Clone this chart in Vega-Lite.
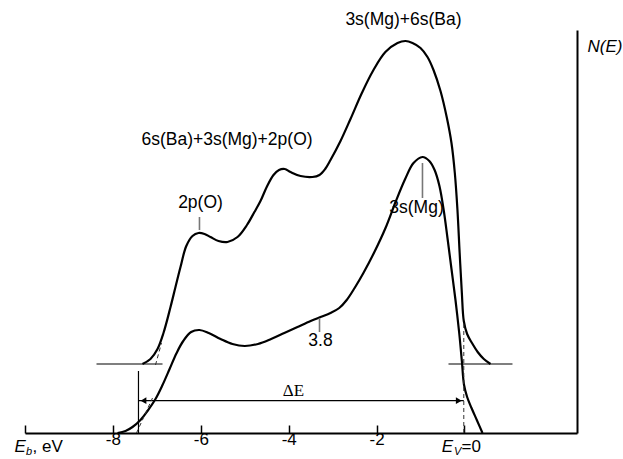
{
  "$schema": "https://vega.github.io/schema/vega-lite/v6.json",
  "width": 552,
  "height": 403,
  "autosize": {"type": "none"},
  "padding": {"left": 25, "top": 30, "right": 46, "bottom": 26},
  "background": "white",
  "config": {"view": {"stroke": null}, "font": "Liberation Sans"},
  "datasets": {
    "upper": [
      {"x": -7.327, "y": 69}, {"x": -7.145, "y": 74}, {"x": -6.985, "y": 84}, {"x": -6.849, "y": 100},
      {"x": -6.689, "y": 126}, {"x": -6.576, "y": 146}, {"x": -6.462, "y": 166}, {"x": -6.33, "y": 187},
      {"x": -6.189, "y": 197}, {"x": -6.052, "y": 200}, {"x": -5.915, "y": 199}, {"x": -5.779, "y": 196},
      {"x": -5.597, "y": 192}, {"x": -5.392, "y": 191}, {"x": -5.165, "y": 196}, {"x": -4.95, "y": 208},
      {"x": -4.78, "y": 221}, {"x": -4.642, "y": 232}, {"x": -4.50, "y": 246}, {"x": -4.346, "y": 258},
      {"x": -4.22, "y": 263}, {"x": -4.09, "y": 264}, {"x": -3.959, "y": 261},
      {"x": -3.73, "y": 257}, {"x": -3.46, "y": 256}, {"x": -3.30, "y": 258}, {"x": -3.17, "y": 264},
      {"x": -3.049, "y": 273}, {"x": -2.821, "y": 292}, {"x": -2.594, "y": 314}, {"x": -2.335, "y": 340},
      {"x": -2.071, "y": 363}, {"x": -1.80, "y": 381}, {"x": -1.524, "y": 390}, {"x": -1.342, "y": 392},
      {"x": -1.183, "y": 390}, {"x": -1.001, "y": 385}, {"x": -0.842, "y": 376}, {"x": -0.705, "y": 363},
      {"x": -0.546, "y": 342}, {"x": -0.40, "y": 315}, {"x": -0.296, "y": 290}, {"x": -0.22, "y": 260},
      {"x": -0.16, "y": 223}, {"x": -0.11, "y": 180}, {"x": -0.06, "y": 140}, {"x": -0.016, "y": 112},
      {"x": 0.06, "y": 99}, {"x": 0.17, "y": 90}, {"x": 0.30, "y": 81}, {"x": 0.44, "y": 74}, {"x": 0.592, "y": 69}
    ],
    "lower": [
      {"x": -7.895, "y": 0}, {"x": -7.713, "y": 2}, {"x": -7.554, "y": 6}, {"x": -7.372, "y": 13},
      {"x": -7.213, "y": 22}, {"x": -7.031, "y": 34}, {"x": -6.871, "y": 48}, {"x": -6.71, "y": 64},
      {"x": -6.55, "y": 80}, {"x": -6.40, "y": 92}, {"x": -6.22, "y": 101}, {"x": -6.03, "y": 103},
      {"x": -5.82, "y": 100}, {"x": -5.55, "y": 94}, {"x": -5.28, "y": 89}, {"x": -5.00, "y": 87},
      {"x": -4.70, "y": 89}, {"x": -4.40, "y": 94}, {"x": -4.10, "y": 100}, {"x": -3.80, "y": 106},
      {"x": -3.50, "y": 112}, {"x": -3.276, "y": 116}, {"x": -3.049, "y": 120}, {"x": -2.85, "y": 125},
      {"x": -2.68, "y": 133}, {"x": -2.50, "y": 145}, {"x": -2.30, "y": 160}, {"x": -2.05, "y": 181},
      {"x": -1.797, "y": 205}, {"x": -1.56, "y": 232}, {"x": -1.35, "y": 254}, {"x": -1.16, "y": 270},
      {"x": -0.956, "y": 276}, {"x": -0.80, "y": 272}, {"x": -0.68, "y": 263}, {"x": -0.57, "y": 247},
      {"x": -0.47, "y": 222}, {"x": -0.387, "y": 195}, {"x": -0.296, "y": 164}, {"x": -0.205, "y": 133},
      {"x": -0.12, "y": 100}, {"x": -0.06, "y": 72}, {"x": -0.01, "y": 48}, {"x": 0.06, "y": 36},
      {"x": 0.16, "y": 25}, {"x": 0.28, "y": 13}, {"x": 0.410, "y": 0}
    ],
    "thin": [
      {"x": -8.373, "x2": -6.871, "y": 69, "y2": 69},
      {"x": -0.364, "x2": 1.092, "y": 69, "y2": 69},
      {"x": -7.418, "x2": -7.418, "y": 0, "y2": 62},
      {"x": -7.418, "x2": -0.016, "y": 32.3, "y2": 32.3}
    ],
    "dashed": [
      {"x": -7.463, "x2": -7.099, "y": 0, "y2": 35},
      {"x": -7.031, "x2": -6.894, "y": 68, "y2": 90},
      {"x": -0.016, "x2": -0.016, "y": 0, "y2": 110}
    ],
    "pointers": [
      {"x": -6.030, "x2": -6.030, "y": 203, "y2": 216},
      {"x": -0.956, "x2": -0.956, "y": 235, "y2": 270},
      {"x": -3.299, "x2": -3.299, "y": 101, "y2": 115}
    ],
    "labels": [
      {"x": -1.388, "y": 413, "t": "3s(Mg)+6s(Ba)"},
      {"x": -5.404, "y": 293, "t": "6s(Ba)+3s(Mg)+2p(O)"},
      {"x": -6.007, "y": 230, "t": "2p(O)"},
      {"x": -1.092, "y": 225, "t": "3s(Mg)"},
      {"x": -3.276, "y": 92, "t": "3.8"}
    ]
  },
  "encoding": {
    "x": {
      "field": "x", "type": "quantitative",
      "scale": {"domain": [-10, 2.56], "nice": false, "zero": false},
      "axis": {
        "title": null, "values": [-10, -8, -6, -4, -2, 0], "grid": false,
        "domainColor": "black", "domainWidth": 2, "tickColor": "black", "tickWidth": 1.5,
        "tickSize": -8, "labelPadding": 6, "labelFontSize": 17, "labelColor": "black",
        "labelFont": "Liberation Sans",
        "labelExpr": "datum.value == -10 || datum.value == 0 ? '' : '-' + abs(datum.value)"
      }
    },
    "y": {
      "field": "y", "type": "quantitative",
      "scale": {"domain": [0, 403], "nice": false, "zero": false},
      "axis": {"orient": "right", "title": null, "ticks": false, "labels": false, "grid": false, "domainColor": "black", "domainWidth": 2}
    }
  },
  "layer": [
    {"data": {"name": "upper"}, "mark": {"type": "line", "color": "black", "strokeWidth": 2.2, "interpolate": "catmull-rom", "clip": false}},
    {"data": {"name": "lower"}, "mark": {"type": "line", "color": "black", "strokeWidth": 2.2, "interpolate": "catmull-rom", "clip": false}},
    {"data": {"name": "thin"}, "mark": {"type": "rule", "color": "black", "strokeWidth": 1.2},
     "encoding": {"x2": {"field": "x2"}, "y2": {"field": "y2"}}},
    {"data": {"name": "dashed"}, "mark": {"type": "rule", "color": "#333", "strokeWidth": 1, "strokeDash": [4, 3]},
     "encoding": {"x2": {"field": "x2"}, "y2": {"field": "y2"}}},
    {"data": {"name": "pointers"}, "mark": {"type": "rule", "color": "#777", "strokeWidth": 1.6},
     "encoding": {"x2": {"field": "x2"}, "y2": {"field": "y2"}}},
    {"data": {"values": [{"x": -7.418, "y": 32.3}]}, "mark": {"type": "point", "shape": "triangle-left", "filled": true, "color": "black", "size": 45, "xOffset": 5, "opacity": 1}},
    {"data": {"values": [{"x": -0.016, "y": 32.3}]}, "mark": {"type": "point", "shape": "triangle-right", "filled": true, "color": "black", "size": 45, "xOffset": -5, "opacity": 1}},
    {"data": {"name": "labels"}, "mark": {"type": "text", "font": "Liberation Sans", "fontSize": 17.5, "color": "black", "align": "center", "baseline": "middle"},
     "encoding": {"text": {"field": "t"}}},
    {"data": {"values": [{"x": -3.891, "y": 42, "t": "ΔE"}]}, "mark": {"type": "text", "font": "Liberation Serif", "fontSize": 17, "color": "black", "align": "center", "baseline": "middle"},
     "encoding": {"text": {"field": "t"}}},
    {"data": {"values": [{"x": 2.80, "y": 386, "t": "N(E)"}, {"x": -10.24, "y": -14, "t": "E"}, {"x": -0.52, "y": -14, "t": "E"}]},
     "mark": {"type": "text", "font": "Liberation Sans", "fontStyle": "italic", "fontSize": 17, "color": "black", "align": "left", "baseline": "middle"},
     "encoding": {"text": {"field": "t"}}},
    {"data": {"values": [{"x": -9.98, "y": -19, "t": "b"}, {"x": -0.24, "y": -19, "t": "V"}]},
     "mark": {"type": "text", "font": "Liberation Sans", "fontStyle": "italic", "fontSize": 11, "color": "black", "align": "left", "baseline": "middle"},
     "encoding": {"text": {"field": "t"}}},
    {"data": {"values": [{"x": -9.829, "y": -14, "t": ", eV"}, {"x": -0.068, "y": -14, "t": "=0"}]},
     "mark": {"type": "text", "font": "Liberation Sans", "fontSize": 17, "color": "black", "align": "left", "baseline": "middle"},
     "encoding": {"text": {"field": "t"}}}
  ]
}
